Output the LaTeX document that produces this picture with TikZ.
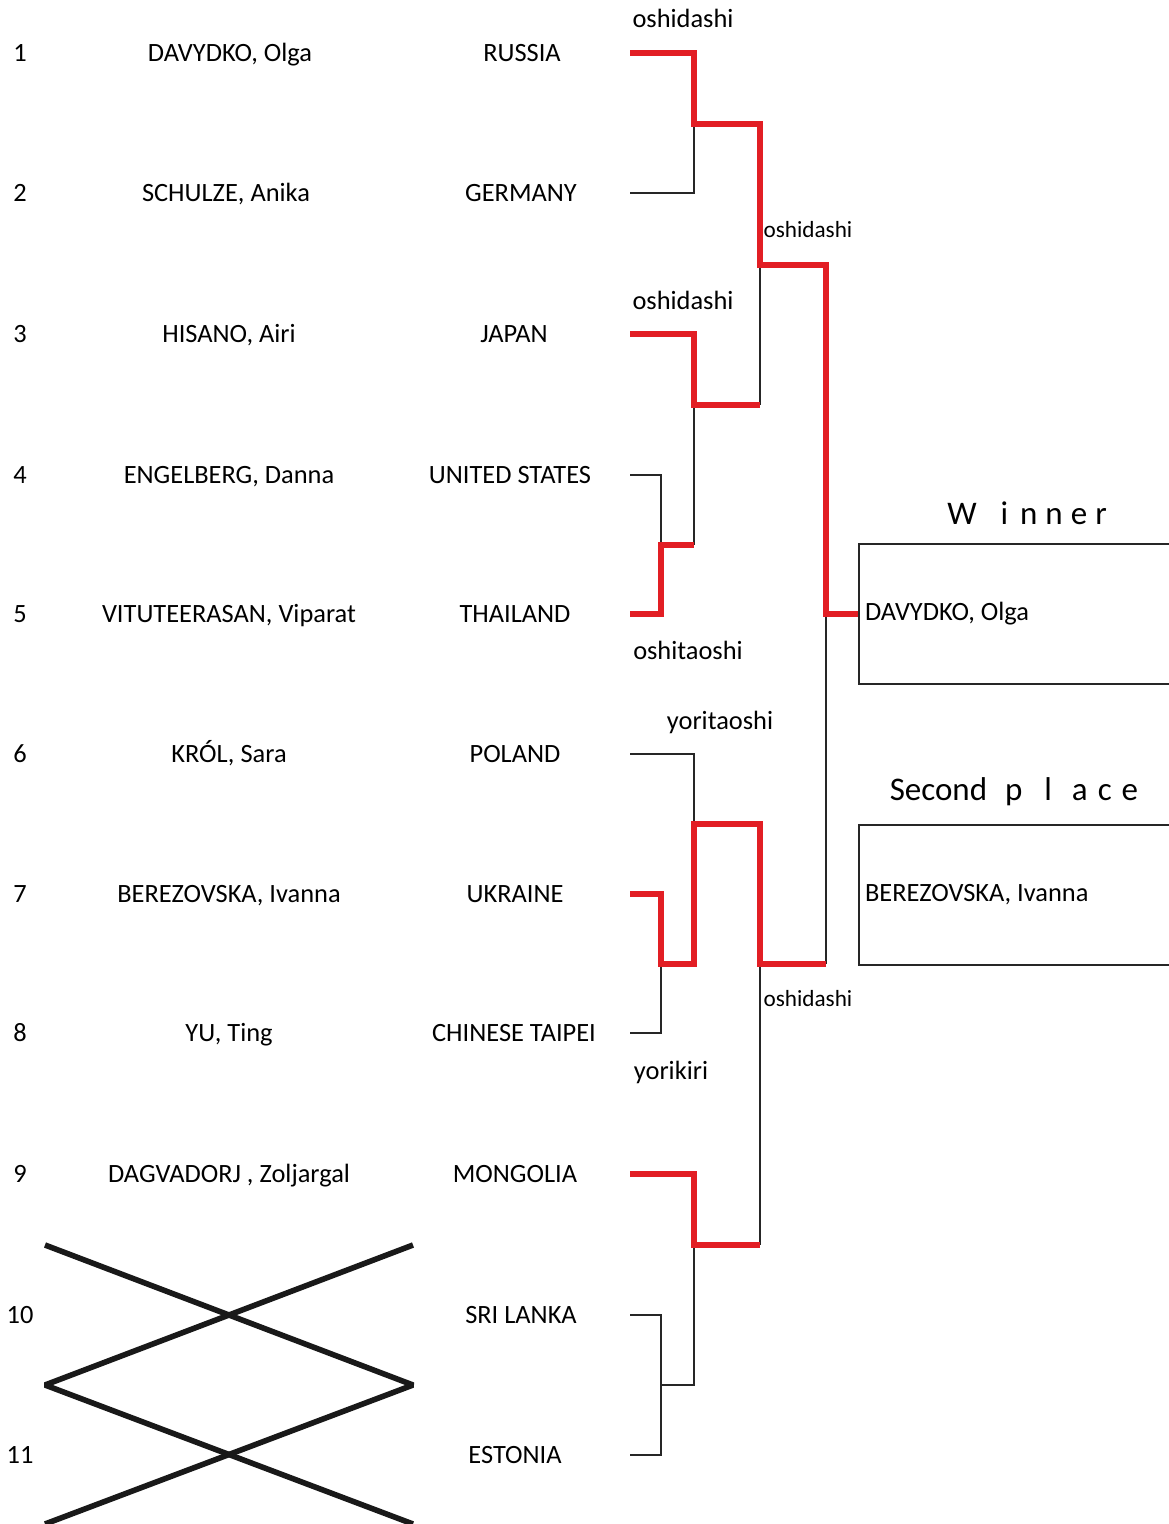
\documentclass[tikz,border=0pt]{standalone}
\usepackage{fontspec}
\setmainfont{Carlito}
\usepackage{xcolor}
\usepackage{tikz}
\definecolor{winred}{RGB}{226,30,36}
\tikzset{txt/.style={inner sep=0pt,text height=8.5pt,text depth=0pt,font=\fontsize{13.2}{15}\selectfont},
  small/.style={inner sep=0pt,text height=7.5pt,text depth=0pt,font=\fontsize{11.6}{13}\selectfont},
  head/.style={inner sep=0pt,font=\fontsize{16.5}{18}\selectfont},
  resbox/.style={draw=black!85,line width=1pt,anchor=west,minimum width=160pt,minimum height=70pt,
    text width=154pt,inner xsep=3pt,align=flush left,font=\fontsize{13.2}{15}\selectfont},
  thin/.style={draw=black!85,line width=0.8pt},
  won/.style={draw=winred,line width=2.6pt},
  cross/.style={draw=black!90,line width=2.8pt,line join=bevel}}

\begin{document}
\begin{tikzpicture}[x=0.5pt,y=-0.5pt]
    \useasboundingbox (0,0) rectangle (1168,1524);

    % seed numbers
    \node[txt] (n1) at (20,53) {1};
    \node[txt] (n2) at (20,193) {2};
    \node[txt] (n3) at (20,334) {3};
    \node[txt] (n4) at (20,475) {4};
    \node[txt] (n5) at (20,614) {5};
    \node[txt] (n6) at (20,754) {6};
    \node[txt] (n7) at (20,894) {7};
    \node[txt] (n8) at (20,1033) {8};
    \node[txt] (n9) at (20,1174) {9};
    \node[txt] (n10) at (20,1315) {10};
    \node[txt] (n11) at (20,1455) {11};

    % players
    \node[txt] (p1) at (230,53) {DAVYDKO, Olga};
    \node[txt] (p2) at (226,193) {SCHULZE, Anika};
    \node[txt] (p3) at (229,334) {HISANO, Airi};
    \node[txt] (p4) at (229,475) {ENGELBERG, Danna};
    \node[txt] (p5) at (229,614) {VITUTEERASAN, Viparat};
    \node[txt] (p6) at (229,754) {KRÓL, Sara};
    \node[txt] (p7) at (229,894) {BEREZOVSKA, Ivanna};
    \node[txt] (p8) at (229,1033) {YU, Ting};
    \node[txt] (p9) at (229,1174) {DAGVADORJ , Zoljargal};

    % countries
    \node[txt] (c1) at (522,53) {RUSSIA};
    \node[txt] (c2) at (521,193) {GERMANY};
    \node[txt] (c3) at (514,334) {JAPAN};
    \node[txt] (c4) at (510,475) {UNITED STATES};
    \node[txt] (c5) at (515,614) {THAILAND};
    \node[txt] (c6) at (515,754) {POLAND};
    \node[txt] (c7) at (515,894) {UKRAINE};
    \node[txt] (c8) at (514,1033) {CHINESE TAIPEI};
    \node[txt] (c9) at (515,1174) {MONGOLIA};
    \node[txt] (c10) at (521,1315) {SRI LANKA};
    \node[txt] (c11) at (515,1455) {ESTONIA};

    % crossed out slots
    \coordinate (xa) at (45,1245);
    \coordinate (xb) at (413,1245);
    \coordinate (xc) at (45,1385);
    \coordinate (xd) at (413,1385);
    \coordinate (xe) at (45,1524);
    \coordinate (xf) at (413,1524);
    \draw [cross] (xa) -- (xd) -- (xe);
    \draw [cross] (xb) -- (xc) -- (xf);

    % bracket ends
    \coordinate (e1) at (630,53);
    \coordinate (e2) at (630,193);
    \coordinate (e3) at (630,334);
    \coordinate (e4) at (630,475);
    \coordinate (e5) at (630,614);
    \coordinate (e6) at (630,754);
    \coordinate (e7) at (630,894);
    \coordinate (e8) at (630,1033);
    \coordinate (e9) at (630,1174);
    \coordinate (e10) at (630,1315);
    \coordinate (e11) at (630,1455);

    % bouts
    \coordinate (m12) at (694,124);   \coordinate (m12r) at (760,124);
    \coordinate (m45) at (661,545);   \coordinate (m45r) at (694,545);
    \coordinate (m35) at (694,405);   \coordinate (m35r) at (760,405);
    \coordinate (m15) at (760,265);   \coordinate (m15r) at (826,265);
    \coordinate (m78) at (661,964);   \coordinate (m78r) at (694,964);
    \coordinate (m68) at (694,824);   \coordinate (m68r) at (760,824);
    \coordinate (m1011) at (661,1385); \coordinate (m1011r) at (694,1385);
    \coordinate (m911) at (694,1245); \coordinate (m911r) at (760,1245);
    \coordinate (m611) at (760,964);  \coordinate (m611r) at (826,964);
    \coordinate (fin) at (826,614);

    % results
    \node[head] (wt) at (1027,513) {W\hspace{12pt}i\hspace{6pt}n\hspace{4pt}n\hspace{4pt}e\hspace{4pt}r};
    \node[resbox] (win) at (858,614) {DAVYDKO, Olga};
    \node[head] (st) at (1014,792) {Second\hspace{9pt}p\hspace{11pt}l\hspace{10pt}a\hspace{5pt}c\hspace{5pt}e};
    \node[resbox] (sec) at (858,895) {BEREZOVSKA, Ivanna};

    % losers
    \draw [thin] (e2) -| (m12);
    \draw [thin] (e4) -| (m45);
    \draw [thin] (m45r) -- (m35);
    \draw [thin] (m35r) -- (m15);
    \draw [thin] (e6) -| (m68);
    \draw [thin] (e8) -| (m78);
    \draw [thin] (e10) -| (m1011) |- (e11);
    \draw [thin] (m1011) -- (m1011r) -- (m911);
    \draw [thin] (m911r) -- (m611);
    \draw [thin] (m611r) -- (fin);

    % winners
    \draw [won] (e1) -| (m12) -- (m12r) -- (m15) -- (m15r) -- (fin) -- (win.west);
    \draw [won] (e3) -| (m35) -- (m35r);
    \draw [won] (e5) -| (m45) -- (m45r);
    \draw [won] (e7) -| (m78) -- (m78r) -- (m68) -- (m68r) -- (m611) -- (m611r);
    \draw [won] (e9) -| (m911) -- (m911r);

    % kimarite
    \node[txt] (k1) at (683,19) {oshidashi};
    \node[small] (k2) at (808,230) {oshidashi};
    \node[txt] (k3) at (683,301) {oshidashi};
    \node[txt] (k4) at (688,651) {oshitaoshi};
    \node[txt] (k5) at (720,721) {yoritaoshi};
    \node[small] (k6) at (808,999) {oshidashi};
    \node[txt] (k7) at (671,1071) {yorikiri};
\end{tikzpicture}
\end{document}
